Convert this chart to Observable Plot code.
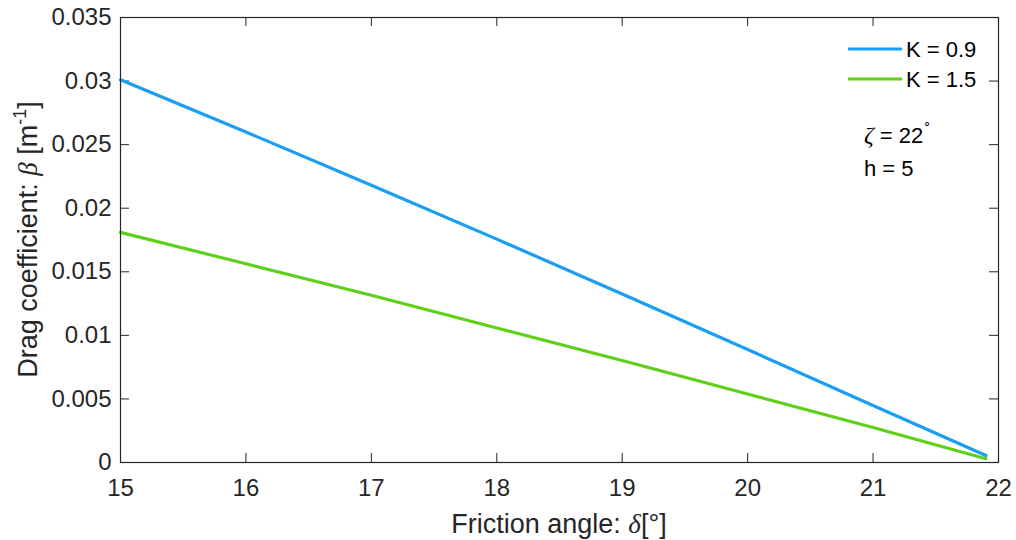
<!DOCTYPE html>
<html><head><meta charset="utf-8">
<script src="https://cdn.jsdelivr.net/npm/d3@7"></script>
<script src="https://cdn.jsdelivr.net/npm/@observablehq/plot@0.6"></script>
<style>body{margin:0;background:#fff}</style>
</head><body><div id="chart"></div>
<script>
const frictionAngle = [15, 16, 17, 18, 19, 20, 21, 21.9];
const dragK09 = [0.0301, 0.0260, 0.0218, 0.01757, 0.01325, 0.00889, 0.00448, 0.00055];
const dragK15 = [0.0181, 0.01563, 0.01315, 0.01058, 0.00802, 0.00539, 0.00275, 0.0003];
const seriesNames = ["K = 0.9", "K = 1.5"];
const seriesColors = ["#1a9ef5", "#5fd01a"];
const xTicks = [15, 16, 17, 18, 19, 20, 21, 22];
const yTicks = [0, 0.005, 0.01, 0.015, 0.02, 0.025, 0.03, 0.035];
const annotations = ["22", "h = 5"];

const W = 1016, H = 540, mL = 120, mR = 18, mT = 17, mB = 78;
const iw = W - mL - mR, ih = H - mT - mB, tk = 9;
const ink = "#262626";

const rows = [];
frictionAngle.forEach((x, i) => {
  rows.push({x, y: dragK09[i], s: seriesNames[0]});
});
frictionAngle.forEach((x, i) => {
  rows.push({x, y: dragK15[i], s: seriesNames[1]});
});

const plot = Plot.plot({
  width: W, height: H,
  marginLeft: mL, marginRight: mR, marginTop: mT, marginBottom: mB,
  style: {fontFamily: "'Liberation Sans', Arial, Helvetica, sans-serif", fontSize: "24px", color: ink, background: "#fff"},
  x: {domain: [15, 22]},
  y: {domain: [0, 0.035]},
  color: {domain: seriesNames, range: seriesColors},
  marks: [
    Plot.ruleX(xTicks, {x: d => d, insetTop: ih - tk, stroke: ink}),
    Plot.ruleX(xTicks, {x: d => d, insetBottom: ih - tk, stroke: ink}),
    Plot.ruleY(yTicks, {y: d => d, insetRight: iw - tk, stroke: ink}),
    Plot.ruleY(yTicks, {y: d => d, insetLeft: iw - tk, stroke: ink}),
    Plot.line(rows, {x: "x", y: "y", z: "s", stroke: "s", strokeWidth: 3.2}),
    Plot.frame({stroke: ink, strokeWidth: 1.2}),
    Plot.axisX({ticks: xTicks, tickSize: 0, tickPadding: 16, label: null, fill: ink,
      tickFormat: d => String(d)}),
    Plot.axisY({ticks: yTicks, tickSize: 0, tickPadding: 9, label: null, fill: ink,
      tickFormat: d => String(+d.toFixed(3))})
  ]
});
document.getElementById("chart").appendChild(plot);

const svg = d3.select(plot);
const font = "'Liberation Sans', Arial, Helvetica, sans-serif";
const serif = "'Liberation Serif', 'Times New Roman', serif";

// X label
const xl = svg.append("text").attr("x", mL + iw / 2).attr("y", 533)
  .attr("text-anchor", "middle").attr("font-family", font).attr("font-size", 27).attr("fill", ink);
xl.append("tspan").text("Friction angle: ");
xl.append("tspan").attr("font-family", serif).attr("font-style", "italic").text("δ");
xl.append("tspan").text("[°]");

// Y label
const yl = svg.append("text").attr("transform", `translate(37,${mT + ih / 2}) rotate(-90)`)
  .attr("text-anchor", "middle").attr("font-family", font).attr("font-size", 27).attr("fill", ink);
yl.append("tspan").text("Drag coefficient: ");
yl.append("tspan").attr("font-family", serif).attr("font-style", "italic").text("β");
yl.append("tspan").text(" [m");
yl.append("tspan").attr("font-size", 18).attr("dy", -11).text("-1");
yl.append("tspan").attr("dy", 11).text("]");

// Legend
const lg = svg.append("g").attr("font-family", font).attr("font-size", 22).attr("fill", "#000")
  .attr("text-anchor", "start");
seriesNames.forEach((n, i) => {
  const y = 49 + i * 30;
  lg.append("line").attr("x1", 848).attr("x2", 902).attr("y1", y).attr("y2", y)
    .attr("stroke", seriesColors[i]).attr("stroke-width", 3.2);
  lg.append("text").attr("x", 906).attr("y", y).attr("dy", "0.36em").attr("text-anchor", "start").text(n);
});

// Annotation
const an = svg.append("g").attr("font-family", font).attr("font-size", 22).attr("fill", "#000")
  .attr("text-anchor", "start");
const t1 = an.append("text").attr("x", 864).attr("y", 143).attr("text-anchor", "start");
t1.append("tspan").attr("font-family", serif).attr("font-style", "italic").attr("font-size", 24).text("ζ");
t1.append("tspan").text(" = " + annotations[0]);
t1.append("tspan").attr("font-size", 13).attr("dy", -16).text("∘");
an.append("text").attr("x", 864).attr("y", 176).attr("text-anchor", "start").text(annotations[1]);
</script>
</body></html>
